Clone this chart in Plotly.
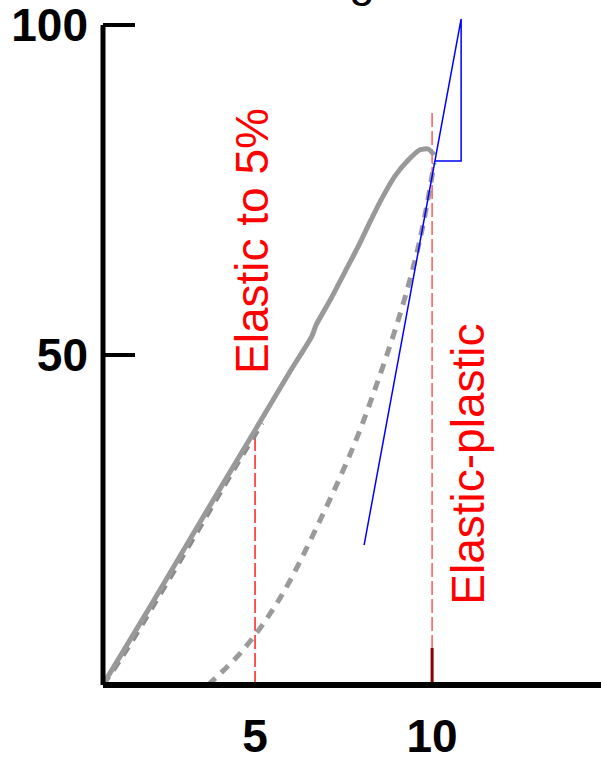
import plotly.graph_objects as go

# Data
solid_x = [0.70, 2.03, 3.45, 5.00, 6.00, 6.61, 6.72, 7.12, 7.54, 7.91, 8.25, 8.59, 8.95, 9.32, 9.66, 9.89, 10.06]
solid_y = [0.0, 11.8, 24.7, 38.6, 47.6, 52.9, 54.5, 58.3, 62.6, 66.4, 70.2, 73.8, 77.1, 79.5, 81.1, 81.2, 80.3]

elastic_x = [0.70, 1.24, 2.26, 3.31, 4.43, 5.20]
elastic_y = [0.0, 4.2, 13.2, 22.7, 32.9, 39.7]

ep_x = [3.67, 4.66, 5.71, 6.84, 7.82, 8.53, 9.09, 9.52, 9.80, 10.06]
ep_y = [0.0, 5.3, 13.2, 25.0, 36.7, 47.0, 56.1, 64.4, 71.2, 79.1]

slope_x = [8.08, 10.82, 10.82, 10.08]
slope_y = [21.2, 100.9, 79.4, 79.4]

mark5_x = [5, 5]
mark5_y = [0, 38.2]
mark10_x = [10, 10]
mark10_y = [0, 86.7]
base10_x = [10, 10]
base10_y = [0, 5.6]

x_ticks = [5, 10]
x_labels = ["5", "10"]
y_ticks = [50, 100]
y_labels = ["50", "100"]

X_RANGE = [0.706, 14.77]
Y_RANGE = [0, 101.2]

fig = go.Figure()
fig.add_trace(go.Scatter(x=mark5_x, y=mark5_y, mode="lines",
                         line=dict(color="#ff2020", width=1.5, dash="14px,4px")))
fig.add_trace(go.Scatter(x=mark10_x, y=mark10_y, mode="lines",
                         line=dict(color="#ff5a5a", width=1.5, dash="14px,4px")))
fig.add_trace(go.Scatter(x=base10_x, y=base10_y, mode="lines",
                         line=dict(color="#8b0000", width=3)))
fig.add_trace(go.Scatter(x=ep_x, y=ep_y, mode="lines",
                         line=dict(color="#9a9a9a", width=5, dash="10px,8px", shape="spline")))
fig.add_trace(go.Scatter(x=elastic_x, y=elastic_y, mode="lines",
                         line=dict(color="#8c8c8c", width=5, dash="10px,8px", shape="spline")))
fig.add_trace(go.Scatter(x=solid_x, y=solid_y, mode="lines",
                         line=dict(color="#999999", width=5, shape="spline", smoothing=0.6)))
fig.add_trace(go.Scatter(x=slope_x, y=slope_y, mode="lines",
                         line=dict(color="#0000ff", width=1.5)))

# axis lines
ytop = y_ticks[-1] / Y_RANGE[1]
fig.add_shape(type="line", xref="paper", yref="paper", x0=0, x1=0, y0=0, y1=ytop,
              line=dict(color="black", width=5))
fig.add_shape(type="line", xref="paper", yref="paper", x0=0, x1=1, y0=0, y1=0,
              line=dict(color="black", width=6))

red_font = dict(family="Liberation Sans, Arial", size=46, color="#ff0000")
fig.add_annotation(x=4.92, y=67.3, text="Elastic to 5%", textangle=-90, showarrow=False,
                   font=red_font, xanchor="center", yanchor="middle")
fig.add_annotation(x=10.99, y=33.4, text="Elastic-plastic", textangle=-90, showarrow=False,
                   font=red_font, xanchor="center", yanchor="middle")
fig.add_annotation(xref="paper", yref="paper", x=0.55, y=1.0135, text="Loading",
                   showarrow=False, xanchor="right", yanchor="bottom",
                   font=dict(family="Liberation Sans, Arial", size=46, color="black"))

tick_font = dict(family="Liberation Sans, Arial", size=46, color="black", weight="bold")
fig.update_layout(
    width=601, height=757,
    margin=dict(l=103, r=0, t=17, b=72, pad=0, autoexpand=False),
    plot_bgcolor="white", paper_bgcolor="white",
    showlegend=False,
    xaxis=dict(range=X_RANGE, tickvals=x_ticks, ticktext=x_labels, ticks="",
               showgrid=False, zeroline=False, showline=False, automargin=False,
               tickfont=tick_font, ticklabelstandoff=20, ticklabeloverflow="allow"),
    yaxis=dict(range=Y_RANGE, tickvals=y_ticks, ticktext=y_labels, ticks="inside",
               ticklen=32, tickwidth=4, tickcolor="black", automargin=False,
               showgrid=False, zeroline=False, showline=False,
               tickfont=tick_font, ticklabelstandoff=14, ticklabeloverflow="allow"),
)

fig.write_html("out.html")
